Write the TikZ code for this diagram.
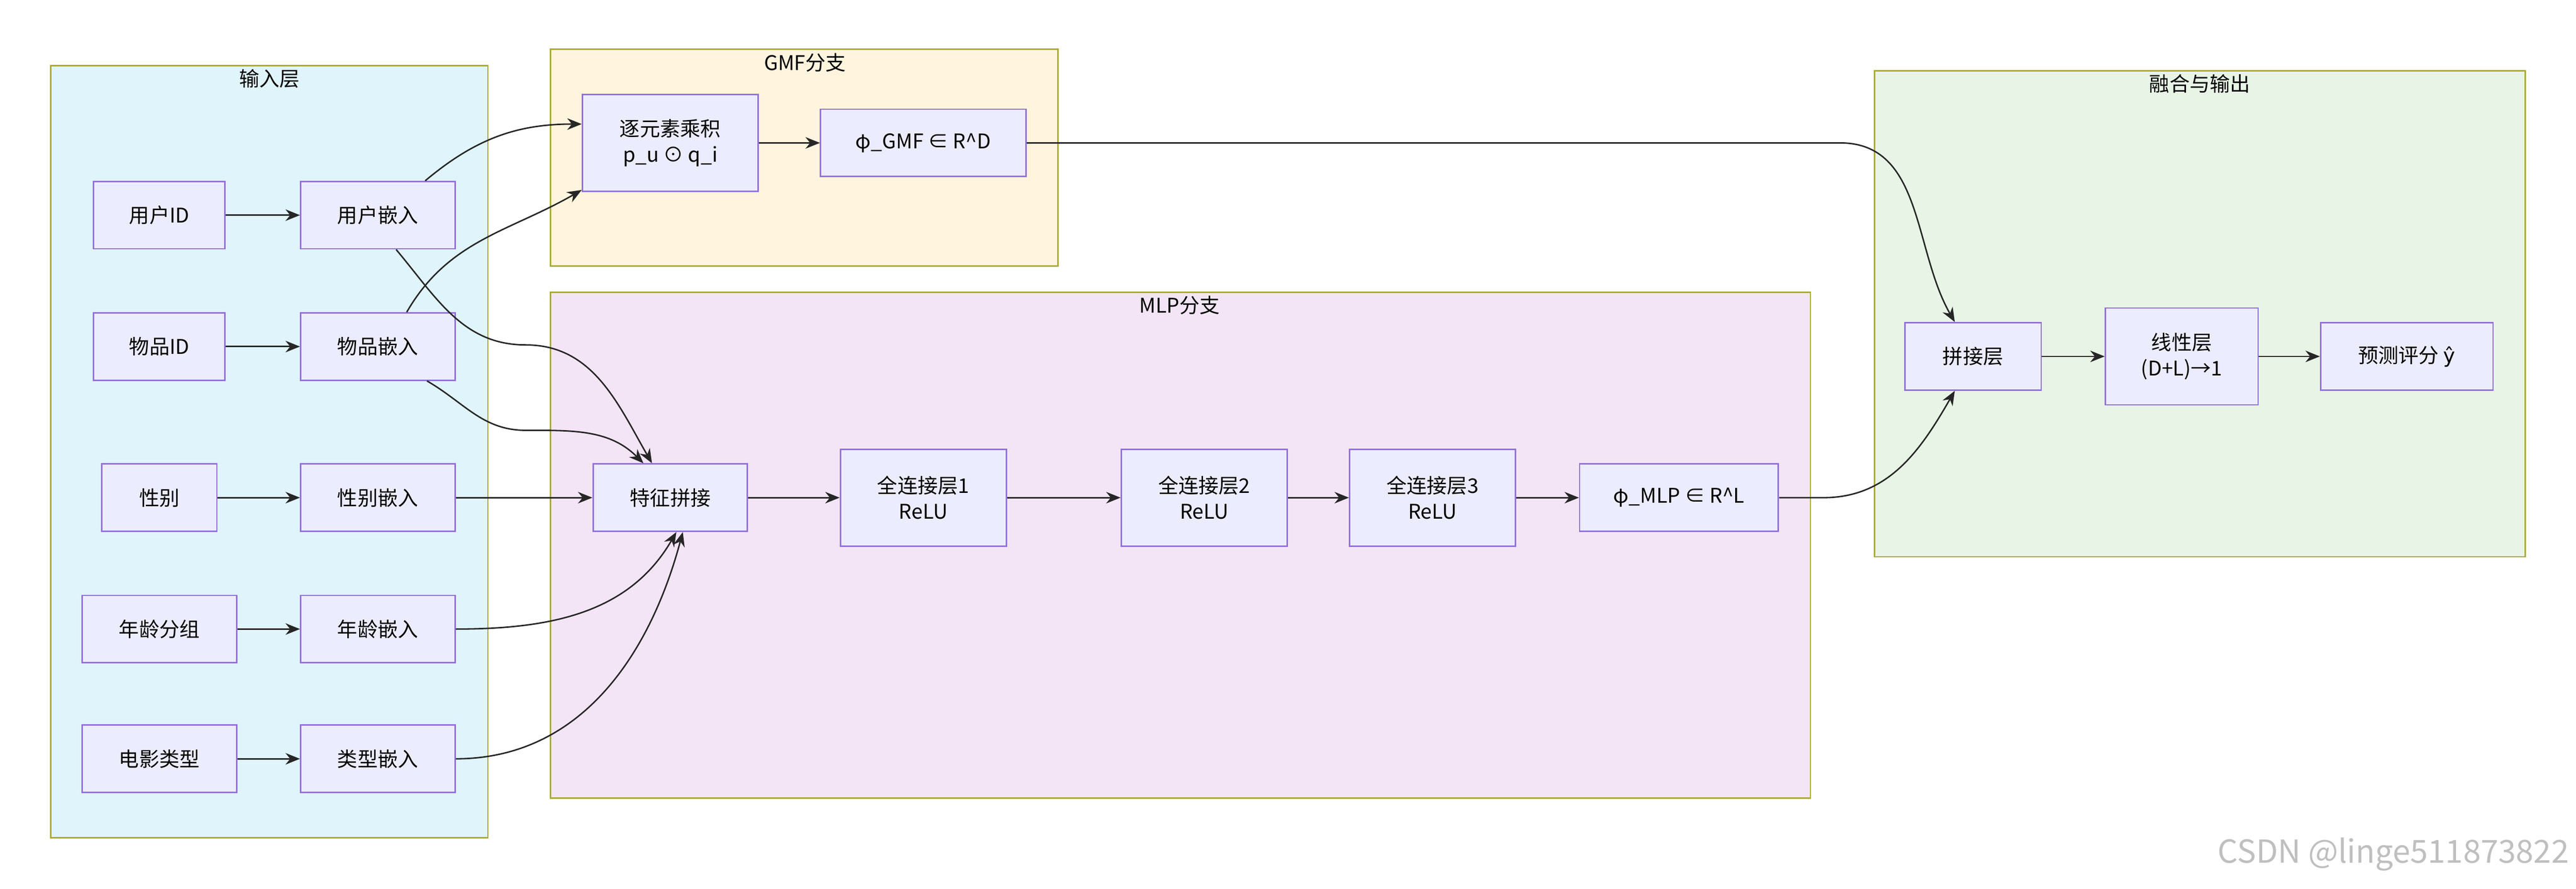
\documentclass[tikz,border=0pt]{standalone}
\usepackage{fontspec}
\setmainfont{Noto Sans CJK SC}
\newfontfamily\hatfont{DejaVu Sans}
\usetikzlibrary{arrows.meta}
\definecolor{nodefill}{HTML}{ECECFF}
\definecolor{nodeline}{HTML}{9370DB}
\definecolor{grpline}{HTML}{AAAA33}
\tikzset{
  box/.style={draw=nodeline, fill=nodefill, line width=0.5pt, minimum height=0.82cm,
    font=\fontsize{7}{9}\selectfont, align=center, inner sep=1pt},
  grp/.style={draw=grpline, line width=0.5pt},
  grplabel/.style={font=\fontsize{7}{9}\selectfont},
  link/.style={-{Stealth[length=5pt,width=4pt]}, line width=0.5pt, draw=black!85}
}
\begin{document}
\begin{tikzpicture}[x=0.02cm, y=-0.02cm]
  \useasboundingbox (0,0) rectangle (1568,541);
  % groups
  \draw [grp, fill={rgb,255:red,224;green,244;blue,252}] (31,40) rectangle (297,510);
  \draw [grp, fill={rgb,255:red,255;green,244;blue,221}] (335,30) rectangle (644,162);
  \draw [grp, fill={rgb,255:red,243;green,229;blue,245}] (335,178) rectangle (1102,486);
  \draw [grp, fill={rgb,255:red,232;green,244;blue,230}] (1141,43) rectangle (1537,339);
  \node [grplabel] (lin) at (164,48) {输入层};
  \node [grplabel] (lgmf) at (490,38) {GMF分支};
  \node [grplabel] (lmlp) at (718,186) {MLP分支};
  \node [grplabel] (lout) at (1339,51) {融合与输出};

  % input layer
  \node [box, minimum width=1.6cm] (uid) at (97,131) {用户ID};
  \node [box, minimum width=1.88cm] (ue) at (230,131) {用户嵌入};
  \node [box, minimum width=1.6cm] (iid) at (97,211) {物品ID};
  \node [box, minimum width=1.88cm] (ie) at (230,211) {物品嵌入};
  \node [box, minimum width=1.4cm] (sex) at (97,303) {性别};
  \node [box, minimum width=1.88cm] (se) at (230,303) {性别嵌入};
  \node [box, minimum width=1.88cm] (age) at (97,383) {年龄分组};
  \node [box, minimum width=1.88cm] (ae) at (230,383) {年龄嵌入};
  \node [box, minimum width=1.88cm] (gen) at (97,462) {电影类型};
  \node [box, minimum width=1.88cm] (te) at (230,462) {类型嵌入};

  % GMF
  \node [box, minimum width=2.14cm, minimum height=1.18cm] (prod) at (408,87) {逐元素乘积\\p\_u ⊙ q\_i};
  \node [box, minimum width=2.5cm] (gmfv) at (562,87) {φ\_GMF ∈ R\^{}D};

  % MLP
  \node [box, minimum width=1.88cm] (concat) at (408,303) {特征拼接};
  \node [box, minimum width=2.02cm, minimum height=1.18cm] (fc1) at (562,303) {全连接层1\\ReLU};
  \node [box, minimum width=2.02cm, minimum height=1.18cm] (fc2) at (733,303) {全连接层2\\ReLU};
  \node [box, minimum width=2.02cm, minimum height=1.18cm] (fc3) at (872,303) {全连接层3\\ReLU};
  \node [box, minimum width=2.42cm] (mlpv) at (1022,303) {φ\_MLP ∈ R\^{}L};

  % output
  \node [box, minimum width=1.66cm] (cat) at (1201,217) {拼接层};
  \node [box, minimum width=1.86cm, minimum height=1.18cm] (lin1) at (1328,217) {线性层\\(D+L)→1};
  \node [box, minimum width=2.1cm] (pred) at (1465,217) {预测评分 {\hatfont ŷ}};

  % connectors
  \draw [link] (uid) -- (ue);
  \draw [link] (iid) -- (ie);
  \draw [link] (sex) -- (se);
  \draw [link] (age) -- (ae);
  \draw [link] (gen) -- (te);
  \draw [link] (ue.36) to[out=40,in=180] (prod.168);
  \draw [link] (ie.50) to[out=60,in=210] (prod.208);
  \draw [link] (prod) -- (gmfv);
  \draw [link] (ue.-62) to[out=-50,in=180] (320,210) to[out=0,in=120] (concat.118);
  \draw [link] (ie.-35) to[out=-30,in=180] (320,262) to[out=0,in=135] (concat.128);
  \draw [link] (se) -- (concat);
  \draw [link] (ae.east) to[out=0,in=-120] (concat.-80);
  \draw [link] (te.east) to[out=0,in=-105] (concat.-70);
  \draw [link] (concat) -- (fc1);
  \draw [link] (fc1) -- (fc2);
  \draw [link] (fc2) -- (fc3);
  \draw [link] (fc3) -- (mlpv);
  \draw [link] (gmfv.east) -- (1120,87) to[out=0,in=120] (cat.118);
  \draw [link] (mlpv.east) -- (1110,303) to[out=0,in=-120] (cat.-118);
  \draw [link] (cat) -- (lin1);
  \draw [link] (lin1) -- (pred);

  % watermark
  \node [font=\fontsize{11}{13}\selectfont, text=black!25, anchor=east, inner sep=0pt] (mark) at (1564,520) {CSDN @linge511873822};
\end{tikzpicture}
\end{document}
